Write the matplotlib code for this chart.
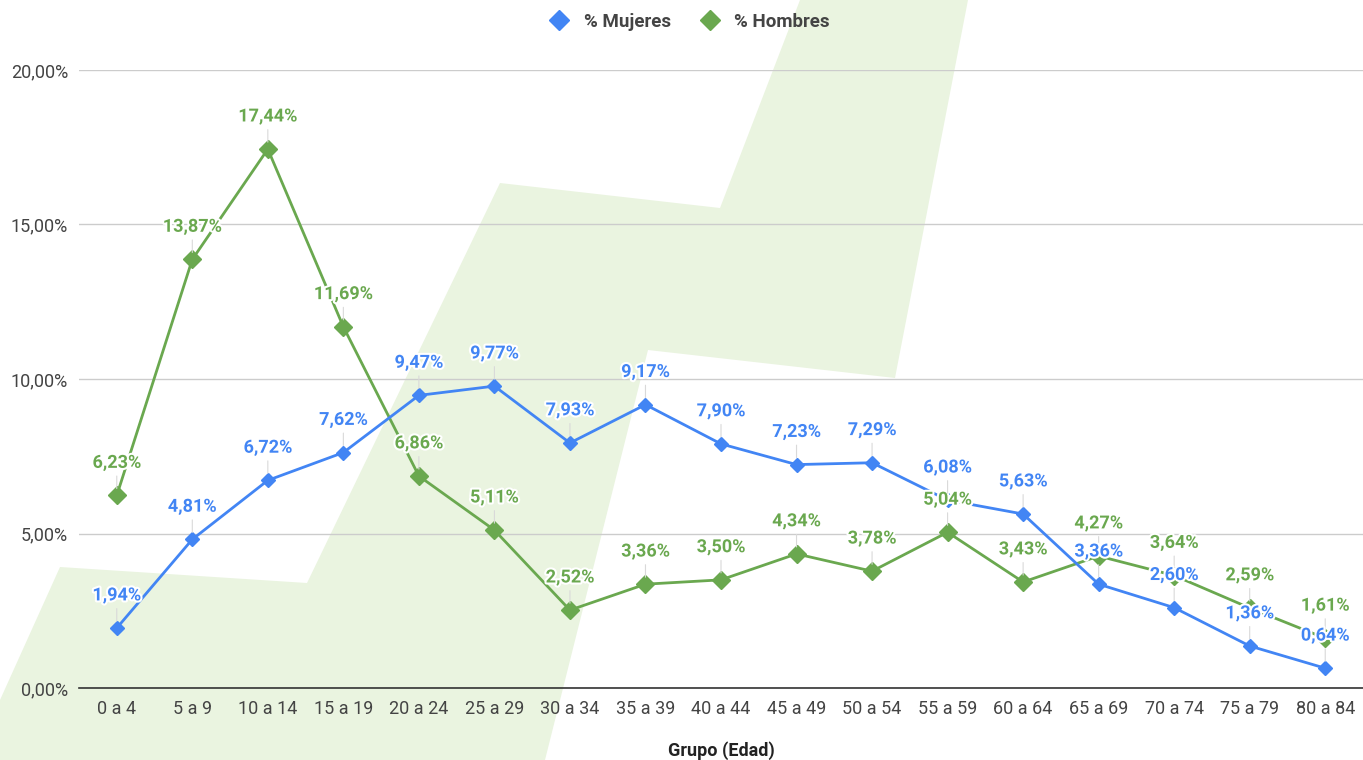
import matplotlib.pyplot as plt
import matplotlib.patheffects as pe
from matplotlib.patches import Polygon

plt.rcParams['font.family'] = ['Roboto', 'DejaVu Sans']

# data
grupos = ['0 a 4', '5 a 9', '10 a 14', '15 a 19', '20 a 24', '25 a 29', '30 a 34',
          '35 a 39', '40 a 44', '45 a 49', '50 a 54', '55 a 59', '60 a 64', '65 a 69',
          '70 a 74', '75 a 79', '80 a 84']
mujeres = [1.94, 4.81, 6.72, 7.62, 9.47, 9.77, 7.93, 9.17, 7.90, 7.23, 7.29, 6.08,
           5.63, 3.36, 2.60, 1.36, 0.64]
hombres = [6.23, 13.87, 17.44, 11.69, 6.86, 5.11, 2.52, 3.36, 3.50, 4.34, 3.78, 5.04,
           3.43, 4.27, 3.64, 2.59, 1.61]
y_ticks = [0, 5, 10, 15, 20]

azul = '#4285f4'
verde = '#6aa84f'

W, H = 1363, 760
fig = plt.figure(figsize=(W / 100, H / 100), dpi=100)

# decorative background shape, on its own axes behind everything (pixel coords, y from top)
bg = fig.add_axes([0, 0, 1, 1], zorder=-1)
bg.set_xlim(0, W)
bg.set_ylim(H, 0)
bg.axis('off')
forma = [(0, 760), (0, 700), (60, 567), (307, 583), (500, 183), (720, 208),
         (800, 0), (968, 0), (895, 378), (648, 350), (545, 760)]
bg.add_patch(Polygon(forma, closed=True, facecolor='#eaf4e0', edgecolor='none'))

ax = fig.add_axes([79 / W, 1 - 688 / H, 1284 / W, 618 / H])
ax.patch.set_alpha(0)

x = list(range(len(grupos)))
ax.plot(x, mujeres, color=azul, lw=2, marker='D', ms=7, zorder=4, label='% Mujeres')
ax.plot(x, hombres, color=verde, lw=2, marker='D', ms=9.5, zorder=3, label='% Hombres')

halo = [pe.withStroke(linewidth=3, foreground='white')]
for serie, col in [(hombres, verde), (mujeres, azul)]:
    for i, v in enumerate(serie):
        ax.annotate(f'{v:.2f}%'.replace('.', ','), xy=(i, v), xytext=(0, 23.5),
                    textcoords='offset points', ha='center', va='center',
                    color=col, fontsize=13, fontweight='bold', zorder=6,
                    path_effects=halo,
                    arrowprops=dict(arrowstyle='-', color='#d9d9d9', lw=0.8,
                                    shrinkA=1, shrinkB=5))

ax.set_xlim(-0.5, len(grupos) - 0.5)
ax.set_ylim(0, 20)
ax.set_yticks(y_ticks)
ax.set_yticklabels([f'{t:.2f}%'.replace('.', ',') for t in y_ticks])
ax.set_xticks(x)
ax.set_xticklabels(grupos)
ax.tick_params(axis='both', length=0, labelsize=13, colors='#444444')
ax.tick_params(axis='y', pad=8)
ax.tick_params(axis='x', pad=9)
ax.grid(axis='y', color='#cccccc', lw=1)
ax.set_axisbelow(True)
for s in ['top', 'right', 'left']:
    ax.spines[s].set_visible(False)
ax.spines['bottom'].set_color('#333333')
ax.spines['bottom'].set_linewidth(1.2)

ax.set_xlabel('Grupo (Edad)', fontsize=13, fontweight='bold', color='#222222', labelpad=16)

fig.legend(loc='center', bbox_to_anchor=(690 / W, 1 - 22 / H), ncol=2, frameon=False,
           handlelength=1, columnspacing=1.6, handletextpad=0.8,
           prop={'weight': 'bold', 'size': 13.5})
for t in fig.legends[0].get_texts():
    t.set_color('#444444')
for h in fig.legends[0].legend_handles:
    h.set_linestyle('none')
    h.set_markersize(10)

fig.savefig('out.png', dpi=100)
